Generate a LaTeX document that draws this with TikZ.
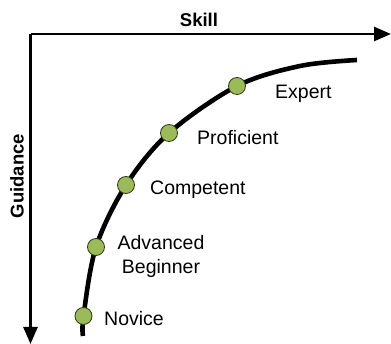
\documentclass[tikz,border=0pt]{standalone}
\usepackage{fontspec}
\setmainfont{Liberation Sans}
\usetikzlibrary{arrows.meta}
\definecolor{dotgreen}{HTML}{9BBB59}
\definecolor{dotedge}{HTML}{2E3A1A}
\begin{document}
\begin{tikzpicture}[x=1pt,y=-1pt,
  axis/.style={line width=2.6pt,-{Triangle[length=17pt,width=14pt]}},
  curve/.style={line width=4.6pt},
  stage/.style={circle,draw=dotedge,line width=0.8pt,fill=dotgreen,minimum size=17pt,inner sep=0pt},
  lbl/.style={font=\fontsize{19.5}{24}\selectfont,inner sep=0pt,align=center},
  axlbl/.style={font=\fontsize{18.5}{21}\selectfont\bfseries,inner sep=0pt}]
\useasboundingbox (0,0) rectangle (391,344);
\coordinate (o) at (30.5,34);
\coordinate (xend) at (391,34);
\coordinate (yend) at (30.5,344);
\draw[axis] (o) -- (xend);
\draw[axis] (o) -- (yend);
\node[axlbl] (skill) at (199,20) {Skill};
\node[axlbl,rotate=90] (guid) at (17,176) {Guidance};
\draw[curve] plot[smooth,tension=0.55] coordinates {(83,336) (83.5,316) (96,247) (126,185) (169,133) (237,86) (300,66) (357,60)};
\node[stage] (n1) at (83.5,316) {};
\node[stage] (n2) at (96,247) {};
\node[stage] (n3) at (126,185) {};
\node[stage] (n4) at (169,133) {};
\node[stage] (n5) at (237,86) {};
\node[lbl,anchor=west] (l1) at (104,319) {Novice};
\node[lbl] (l2) at (161,256) {Advanced\\Beginner};
\node[lbl,anchor=west] (l3) at (150,190) {Competent};
\node[lbl,anchor=west] (l4) at (197,138) {Proficient};
\node[lbl,anchor=west] (l5) at (275,94) {Expert};
\end{tikzpicture}
\end{document}
